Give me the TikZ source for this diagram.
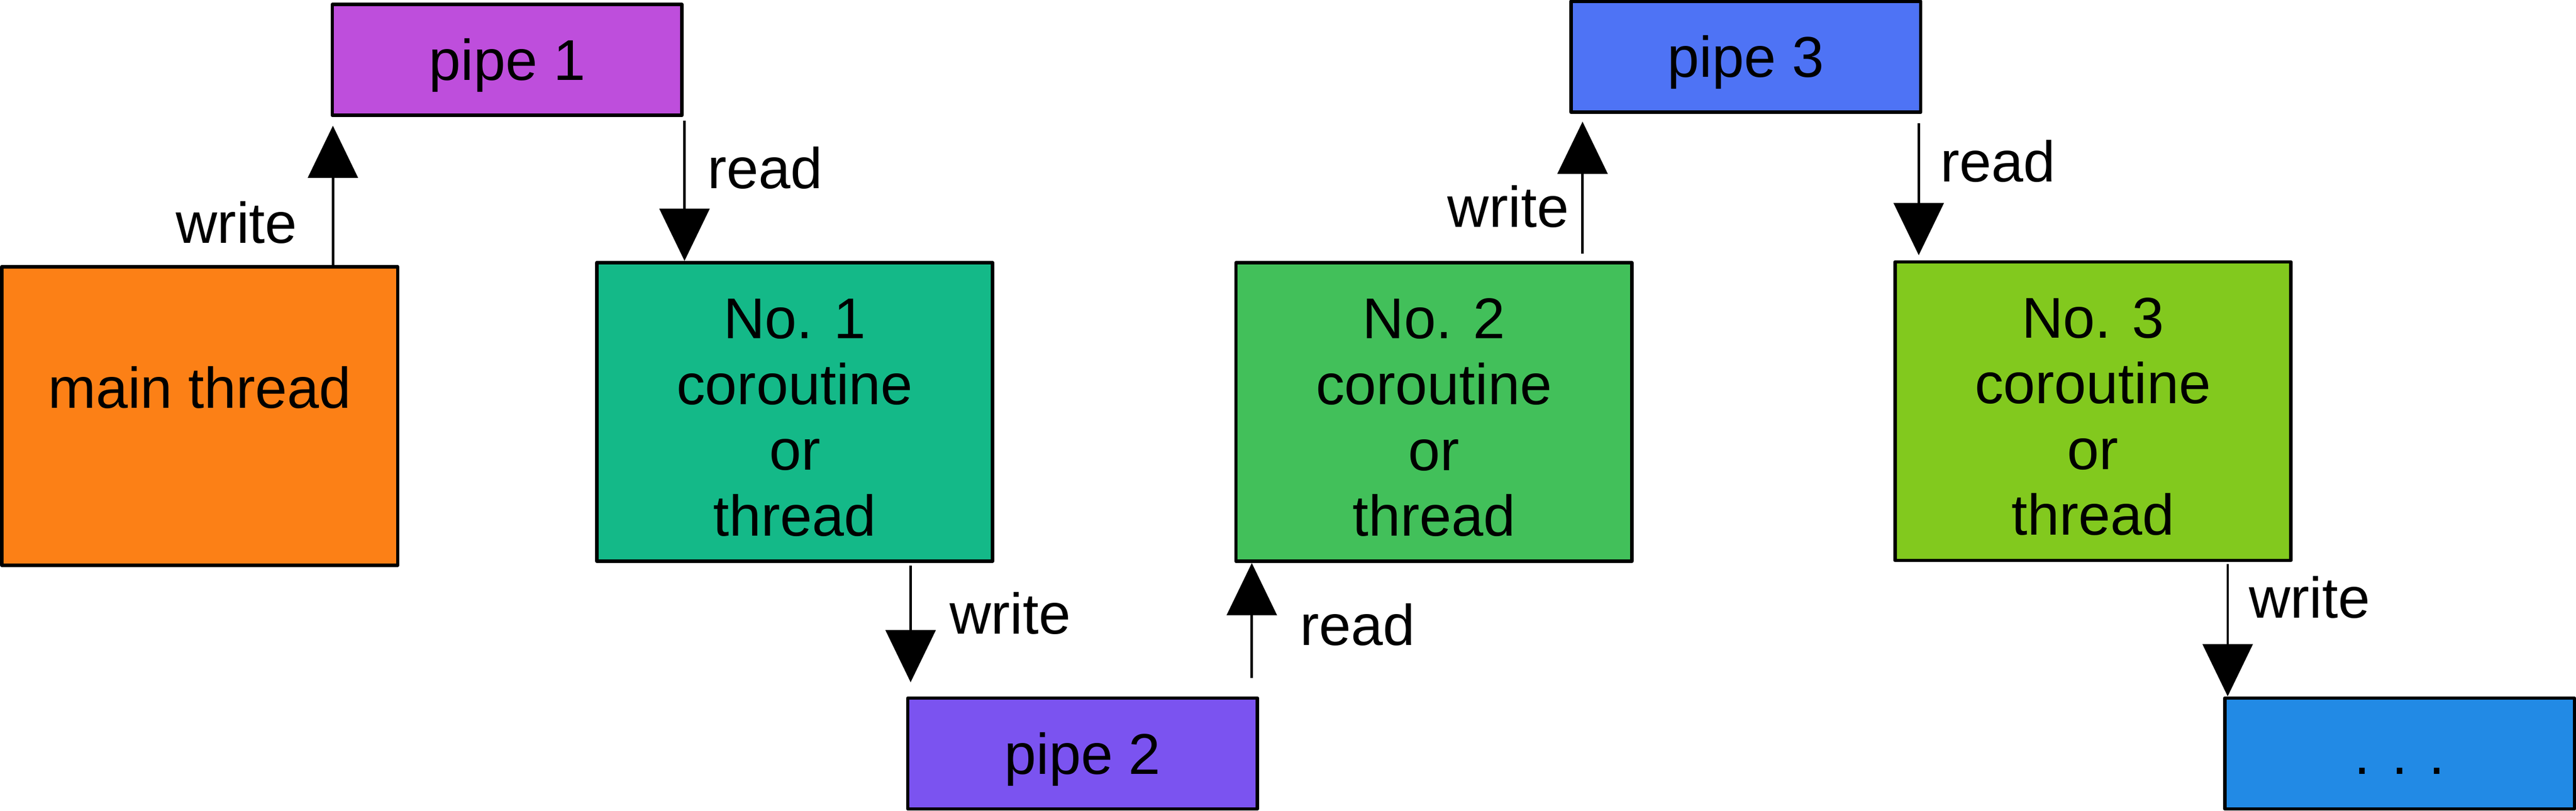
\documentclass[tikz,border=0pt]{standalone}
\usepackage{fontspec}
\setmainfont{Liberation Sans}
\usetikzlibrary{arrows.meta,calc}
\definecolor{mainfill}{RGB}{252,128,22}
\definecolor{pipeone}{RGB}{190,78,220}
\definecolor{pipetwo}{RGB}{123,83,240}
\definecolor{pipethree}{RGB}{78,115,245}
\definecolor{pipedots}{RGB}{34,138,229}
\definecolor{workone}{RGB}{20,185,136}
\definecolor{worktwo}{RGB}{66,192,90}
\definecolor{workthree}{RGB}{130,201,30}
\tikzset{
	box/.style={draw, line width=0.075cm, line join=round, inner sep=0pt, align=center,
		minimum width=8.72cm, minimum height=6.57cm, font=\fontsize{36}{41.2}\selectfont},
	worker/.style={box, text height=5.47cm},
	pipe/.style={box, minimum width=7.70cm, minimum height=2.44cm, text height=1.2cm, text depth=0.3cm},
	flow/.style={line width=0.055cm, -{Triangle[width=1.1cm,length=1.15cm]}},
	tag/.style={anchor=base, inner sep=0pt, font=\fontsize{36}{41.2}\selectfont}
}

\begin{document}
\begin{tikzpicture}
		%%%%% START %%%%%
		\useasboundingbox (0, 0) rectangle (56.74, 17.85);
		
		\node[box, fill=mainfill, text height=0.93cm, text depth=1.27cm] (main) at (4.40, 8.695) {main thread};
		\node[pipe, fill=pipeone] (pipe1) at (11.17, 16.53) {pipe 1};
		\node[worker, fill=workone] (no1) at (17.505, 8.785) {No. 1\\coroutine\\or\\thread};
		\node[pipe, fill=pipetwo] (pipe2) at (23.845, 1.265) {pipe 2};
		\node[worker, fill=worktwo] (no2) at (31.585, 8.78) {No. 2\\coroutine\\or\\thread};
		\node[pipe, fill=pipethree] (pipe3) at (38.455, 16.60) {pipe 3};
		\node[worker, fill=workthree] (no3) at (46.10, 8.80) {No. 3\\coroutine\\or\\thread};
		\node[pipe, fill=pipedots] (dots) at (52.855, 1.265) {. . .};
		
		\coordinate (w1) at ([xshift=0.05cm]pipe1.south west);
		\coordinate (r1) at ([xshift=0.02cm]pipe1.south east);
		\coordinate (w2) at ([xshift=0.10cm]pipe2.north west);
		\coordinate (r2) at ([xshift=-0.16cm]pipe2.north east);
		\coordinate (w3) at ([xshift=0.29cm]pipe3.south west);
		\coordinate (r3) at ([xshift=-0.08cm]pipe3.south east);
		\coordinate (w4) at ([xshift=0.10cm]dots.north west);
		
		\draw[flow, shorten >=0.19cm] (w1 |- main.north) -- (w1);
		\draw[flow, shorten <=0.08cm] (r1) -- (r1 |- no1.north);
		\draw[flow, shorten <=0.06cm, shorten >=0.31cm] (w2 |- no1.south) -- (w2);
		\draw[flow, shorten <=0.40cm] (r2) -- (r2 |- no2.south);
		\draw[flow, shorten <=0.16cm, shorten >=0.17cm] (w3 |- no2.north) -- (w3);
		\draw[flow, shorten <=0.21cm, shorten >=0.11cm] (r3) -- (r3 |- no3.north);
		\draw[flow, shorten <=0.04cm] (w4 |- no3.south) -- (w4);
		
		\node[tag] (write1) at (5.21, 12.50) {write};
		\node[tag] (read1) at (16.85, 13.70) {read};
		\node[tag] (write2) at (22.25, 3.90) {write};
		\node[tag] (read2) at (29.90, 3.65) {read};
		\node[tag] (write3) at (33.22, 12.85) {write};
		\node[tag] (read3) at (44.01, 13.85) {read};
		\node[tag] (write4) at (50.87, 4.25) {write};
		
		%%%%% END %%%%%
	\end{tikzpicture}
\end{document}
